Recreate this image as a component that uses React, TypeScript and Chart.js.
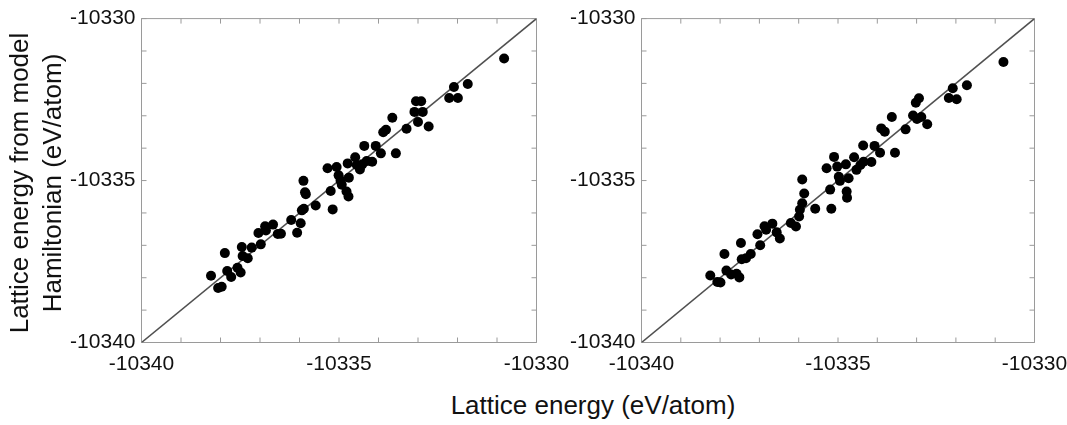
import React, { useEffect, useRef } from "react";
import { Chart, registerables } from "chart.js";

Chart.register(...registerables);

// ---- data ----
const axisMin = -10340;
const axisMax = -10330;
const majorTicks = [-10340, -10335, -10330];
const majorTickLabels = ["-10340", "-10335", "-10330"];
const minorTicks = [-10340, -10339, -10338, -10337, -10336, -10335, -10334, -10333, -10332, -10331, -10330];
const diagonal = [-10340, -10330];

const xTitle = "Lattice energy (eV/atom)";
const yTitleLines = ["Lattice energy from model", "Hamiltonian (eV/atom)"];

const leftX = [
  -10338.24, -10338.06, -10337.97, -10337.89, -10337.83, -10337.73, -10337.57, -10337.49,
  -10337.46, -10337.44, -10337.31, -10337.21, -10336.98, -10337.04, -10336.87, -10336.85,
  -10336.67, -10336.55, -10336.47, -10336.21, -10336.06, -10335.97, -10335.94, -10335.89,
  -10335.59, -10335.16, -10335.90, -10335.86, -10335.84, -10335.21, -10335.29, -10335.06,
  -10335.01, -10334.96, -10334.93, -10334.81, -10334.76, -10334.75, -10334.78, -10334.59,
  -10334.55, -10334.47, -10334.41, -10334.30, -10334.16, -10334.36, -10334.07, -10333.94,
  -10333.56, -10333.88, -10333.81, -10333.29, -10333.65, -10333.00, -10332.73, -10333.09,
  -10332.88, -10333.05, -10332.92, -10332.21, -10331.99, -10332.09, -10331.74, -10330.82,
];
const leftY = [
  -10337.94, -10338.32, -10338.28, -10337.24, -10337.79, -10337.98, -10337.69, -10337.84,
  -10337.05, -10337.33, -10337.40, -10337.07, -10336.97, -10336.62, -10336.41, -10336.54,
  -10336.36, -10336.65, -10336.64, -10336.22, -10336.61, -10336.32, -10335.92, -10335.87,
  -10335.77, -10335.89, -10335.01, -10335.36, -10335.42, -10335.32, -10334.62, -10334.58,
  -10334.84, -10335.01, -10335.13, -10335.34, -10335.49, -10334.91, -10334.47, -10334.28,
  -10334.52, -10334.66, -10334.50, -10334.40, -10334.42, -10333.93, -10333.93, -10334.16,
  -10334.16, -10333.51, -10333.43, -10333.40, -10333.06, -10333.19, -10333.33, -10332.88,
  -10332.88, -10332.55, -10332.55, -10332.45, -10332.45, -10332.11, -10332.02, -10331.23,
];

const rightX = [
  -10338.25, -10338.07, -10337.99, -10337.89, -10337.84, -10337.72, -10337.58, -10337.51,
  -10337.47, -10337.45, -10337.34, -10337.22, -10337.05, -10336.98, -10336.87, -10336.83,
  -10336.67, -10336.56, -10336.48, -10336.20, -10336.07, -10335.99, -10335.97, -10335.91,
  -10335.91, -10335.86, -10335.58, -10335.17, -10335.20, -10335.29, -10335.10, -10335.02,
  -10334.98, -10334.95, -10334.78, -10334.77, -10334.73, -10334.80, -10334.59, -10334.53,
  -10334.43, -10334.35, -10334.15, -10334.36, -10334.07, -10333.93, -10333.55, -10333.90,
  -10333.81, -10333.28, -10333.63, -10333.09, -10332.99, -10332.88, -10332.73, -10333.02,
  -10332.94, -10332.18, -10331.98, -10332.08, -10331.72, -10330.79,
];
const rightY = [
  -10337.93, -10338.13, -10338.15, -10337.27, -10337.78, -10337.90, -10337.88, -10337.99,
  -10336.93, -10337.43, -10337.40, -10337.27, -10336.66, -10337.00, -10336.41, -10336.52,
  -10336.33, -10336.60, -10336.79, -10336.31, -10336.42, -10336.11, -10335.90, -10335.70,
  -10334.97, -10335.40, -10335.87, -10335.87, -10335.28, -10334.62, -10334.27, -10334.57,
  -10334.88, -10335.01, -10335.34, -10335.53, -10334.93, -10334.50, -10334.28, -10334.67,
  -10334.52, -10334.42, -10334.43, -10333.92, -10333.93, -10334.14, -10334.14, -10333.39,
  -10333.49, -10333.42, -10333.04, -10332.99, -10333.10, -10333.04, -10333.26, -10332.60,
  -10332.46, -10332.45, -10332.49, -10332.15, -10332.06, -10331.34,
];

const FONT = "'Liberation Sans', Arial, Helvetica, sans-serif";
const TEXT = "#111";

const frameTicks = {
  id: "frameTicks",
  beforeDatasetsDraw(chart: any) {
    const { ctx, chartArea: a, scales } = chart;
    const xs = scales.x;
    const ys = scales.y;
    ctx.save();
    ctx.strokeStyle = "#9a9a9a";
    ctx.lineWidth = 1;
    ctx.beginPath();
    ctx.rect(a.left, a.top, a.right - a.left, a.bottom - a.top);
    const L = 5;
    for (const v of minorTicks) {
      const px = xs.getPixelForValue(v);
      ctx.moveTo(px, a.bottom);
      ctx.lineTo(px, a.bottom - L);
      ctx.moveTo(px, a.top);
      ctx.lineTo(px, a.top + L);
      const py = ys.getPixelForValue(v);
      ctx.moveTo(a.left, py);
      ctx.lineTo(a.left + L, py);
      ctx.moveTo(a.right, py);
      ctx.lineTo(a.right - L, py);
    }
    ctx.stroke();
    ctx.restore();
  },
};

function tickLabel(v: number) {
  const i = majorTicks.indexOf(v);
  return i >= 0 ? majorTickLabels[i] : "";
}

function makeConfig(xs: number[], ys: number[], yWidth: number, rightPad: number): any {
  return {
    type: "scatter",
    data: {
      datasets: [
        {
          type: "scatter",
          data: xs.map((x, i) => ({ x, y: ys[i] })),
          backgroundColor: "#000",
          borderWidth: 0,
          pointRadius: 5,
          order: 0,
        },
        {
          type: "line",
          data: diagonal.map((v) => ({ x: v, y: v })),
          borderColor: "#505050",
          borderWidth: 1.6,
          pointRadius: 0,
          fill: false,
          order: 1,
        },
      ],
    },
    options: {
      responsive: false,
      animation: false,
      events: [],
      layout: { padding: { left: 0, top: 15.5, right: rightPad, bottom: 0 } },
      plugins: { legend: { display: false }, tooltip: { enabled: false } },
      scales: {
        x: {
          type: "linear",
          min: axisMin,
          max: axisMax,
          grid: { display: false, drawTicks: false },
          border: { display: false },
          afterBuildTicks: (s: any) => {
            s.ticks = majorTicks.map((v) => ({ value: v }));
          },
          ticks: {
            callback: (v: number) => tickLabel(v),
            font: { size: 21, family: FONT },
            color: TEXT,
            padding: 9,
            maxRotation: 0,
            autoSkip: false,
          },
          afterFit: (s: any) => {
            s.height = 37.5;
          },
        },
        y: {
          type: "linear",
          min: axisMin,
          max: axisMax,
          grid: { display: false, drawTicks: false },
          border: { display: false },
          afterBuildTicks: (s: any) => {
            s.ticks = majorTicks.map((v) => ({ value: v }));
          },
          ticks: {
            callback: (v: number) => tickLabel(v),
            font: { size: 21, family: FONT },
            color: TEXT,
            padding: 6,
            autoSkip: false,
          },
          afterFit: (s: any) => {
            s.width = yWidth;
          },
        },
      },
    },
    plugins: [frameTicks],
  };
}

function Panel(props: { xs: number[]; ys: number[]; left: number; width: number; yWidth: number; rightPad: number }) {
  const ref = useRef<HTMLCanvasElement | null>(null);
  useEffect(() => {
    if (!ref.current) return;
    const chart = new Chart(ref.current, makeConfig(props.xs, props.ys, props.yWidth, props.rightPad));
    return () => chart.destroy();
  }, []);
  return (
    <canvas
      ref={ref}
      width={props.width}
      height={380}
      style={{ position: "absolute", left: props.left, top: 0, width: props.width, height: 380 }}
    />
  );
}

export default function App() {
  return (
    <div
      style={{
        position: "absolute",
        left: 0,
        top: 0,
        width: 1067,
        height: 425,
        overflow: "hidden",
        background: "#fff",
        fontFamily: FONT,
        color: TEXT,
      }}
    >
      <Panel xs={leftX} ys={leftY} left={0} width={600} yWidth={141.5} rightPad={63.5} />
      <Panel xs={rightX} ys={rightY} left={540} width={560} yWidth={101.5} rightPad={65.5} />
      <div
        style={{
          position: "absolute",
          left: 593 - 200,
          top: 390,
          width: 400,
          textAlign: "center",
          fontSize: 26,
          lineHeight: "30px",
          whiteSpace: "nowrap",
        }}
      >
        {xTitle}
      </div>
      <div
        style={{
          position: "absolute",
          left: 36 - 200,
          top: 183 - 33,
          width: 400,
          height: 66,
          transform: "rotate(-90deg)",
          transformOrigin: "center center",
          textAlign: "center",
          fontSize: 26,
          lineHeight: "33px",
          whiteSpace: "nowrap",
        }}
      >
        {yTitleLines.map((t, i) => (
          <div key={i}>{t}</div>
        ))}
      </div>
    </div>
  );
}
